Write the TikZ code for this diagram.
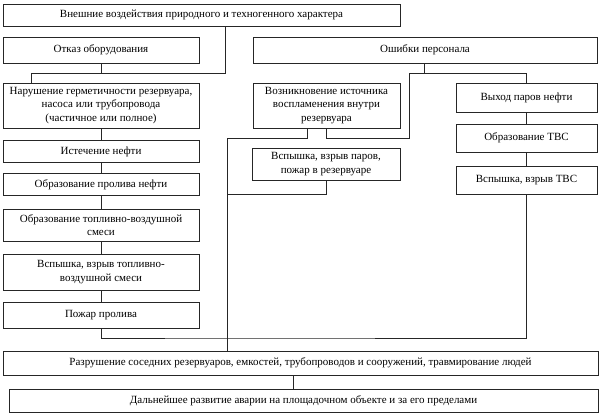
\documentclass[tikz,border=0pt]{standalone}
\usepackage{fontspec}
\setmainfont{Liberation Serif}
\begin{document}
\begin{tikzpicture}[x=1pt,y=-1pt,
  box/.style={draw=black!85,line width=0.9pt,inner sep=0pt,align=center,
    font=\fontsize{11}{13.5}\selectfont},
  conn/.style={draw=black!85,line width=0.7pt}]
\useasboundingbox (0,0) rectangle (604,418);
% boxes: centre (cx,cy), size w x h
\node[box,minimum width=397pt,minimum height=22pt] (top) at (201.5,15) {Внешние воздействия природного и техногенного характера};
\node[box,minimum width=196pt,minimum height=26pt] (otkaz) at (101,50) {Отказ оборудования};
\node[box,minimum width=344pt,minimum height=26pt] (oshibki) at (425,50) {Ошибки персонала};
\node[box,minimum width=196pt,minimum height=45pt] (narush) at (101,105.5) {Нарушение герметичности резервуара,\\ насоса или трубопровода\\ (частичное или полное)};
\node[box,minimum width=147pt,minimum height=45pt] (vozn) at (326.5,105.5) {Возникновение источника\\ воспламенения внутри\\ резервуара};
\node[box,minimum width=141pt,minimum height=29pt] (vyhod) at (526.5,97.5) {Выход паров нефти};
\node[box,minimum width=141pt,minimum height=28pt] (obrTVS) at (526.5,138) {Образование ТВС};
\node[box,minimum width=141pt,minimum height=28pt] (vspTVS) at (526.5,180) {Вспышка, взрыв ТВС};
\node[box,minimum width=196pt,minimum height=22pt] (istech) at (101,151.5) {Истечение нефти};
\node[box,minimum width=196pt,minimum height=22pt] (obrProl) at (101,184.5) {Образование пролива нефти};
\node[box,minimum width=196pt,minimum height=32pt] (obrSm) at (101,225) {Образование топливно-воздушной\\ смеси};
\node[box,minimum width=196pt,minimum height=36pt] (vspSm) at (101,272) {Вспышка, взрыв топливно-\\ воздушной смеси};
\node[box,minimum width=196pt,minimum height=26pt] (pozhar) at (101,315) {Пожар пролива};
\node[box,minimum width=148pt,minimum height=32pt] (vspPar) at (326,164) {Вспышка, взрыв паров,\\ пожар в резервуаре};
\node[box,minimum width=595pt,minimum height=24pt] (razr) at (300.5,363) {Разрушение соседних резервуаров, емкостей, трубопроводов и сооружений, травмирование людей};
\node[box,minimum width=589pt,minimum height=23pt] (daln) at (303.5,400.5) {Дальнейшее развитие аварии на площадочном объекте и за его пределами};
% junction points
\coordinate (jt) at (225,73);
\coordinate (jl) at (31,73);
\coordinate (jo) at (424,73);
\coordinate (ja) at (409,73);
\coordinate (jc) at (326,138);
\coordinate (jd) at (307,138);
\coordinate (je) at (227,138);
\coordinate (jf) at (227,194);
\coordinate (jg) at (227,338);
\coordinate (jh) at (293,380);
% connectors
\draw[conn] (top.south -| jt) -- (jt) -| (narush.north -| jl);
\draw[conn] (otkaz.south) -- (otkaz.south |- jt);
\draw[conn] (oshibki.south -| jo) -- (jo);
\draw[conn] (ja) -| (vyhod.north);
\draw[conn] (ja) |- (jc) -- (vozn.south -| jc);
\draw[conn] (vozn.south -| jd) |- (je) -- (razr.north -| je);
\draw[conn] (vspPar.south -| jc) |- (jf);
\draw[conn] (narush.south) -- (istech.north);
\draw[conn] (istech.south) -- (obrProl.north);
\draw[conn] (obrProl.south) -- (obrSm.north);
\draw[conn] (obrSm.south) -- (vspSm.north);
\draw[conn] (vspSm.south) -- (pozhar.north);
\draw[conn] (pozhar.south) |- (jg) -| (vspTVS.south);
\draw[conn] (vyhod.south) -- (obrTVS.north);
\draw[conn] (obrTVS.south) -- (vspTVS.north);
\draw[conn] (razr.south -| jh) -- (daln.north -| jh);
\end{tikzpicture}
\end{document}
